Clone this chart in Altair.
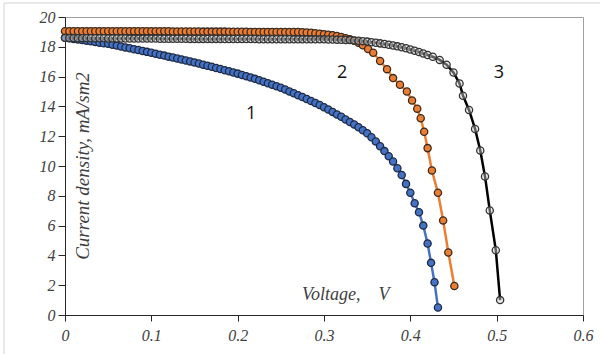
import altair as alt
import pandas as pd

# ---- data ----
v1 = [0.000, 0.005, 0.010, 0.015, 0.020, 0.025, 0.030, 0.035, 0.040, 0.045,
      0.050, 0.055, 0.060, 0.065, 0.070, 0.075, 0.080, 0.085, 0.090, 0.095,
      0.100, 0.105, 0.110, 0.115, 0.120, 0.125, 0.130, 0.135, 0.140, 0.145,
      0.150, 0.155, 0.160, 0.165, 0.170, 0.175, 0.180, 0.185, 0.190, 0.195,
      0.200, 0.205, 0.210, 0.215, 0.220, 0.225, 0.230, 0.235, 0.240, 0.245,
      0.250, 0.255, 0.260, 0.265, 0.270, 0.275, 0.280, 0.285, 0.290, 0.295,
      0.300, 0.305, 0.310, 0.315, 0.320, 0.325, 0.330, 0.335, 0.340, 0.345,
      0.350, 0.355, 0.360, 0.365, 0.370, 0.375, 0.380, 0.385, 0.390, 0.395,
      0.400, 0.405, 0.410, 0.415, 0.420, 0.424, 0.428, 0.432]
j1 = [18.60, 18.57, 18.53, 18.49, 18.45, 18.41, 18.37, 18.33, 18.28, 18.24,
      18.20, 18.14, 18.08, 18.02, 17.96, 17.90, 17.84, 17.78, 17.72, 17.66,
      17.60, 17.54, 17.47, 17.41, 17.34, 17.28, 17.21, 17.15, 17.08, 17.02,
      16.95, 16.88, 16.80, 16.73, 16.66, 16.58, 16.51, 16.43, 16.36, 16.28,
      16.20, 16.11, 16.03, 15.94, 15.85, 15.75, 15.65, 15.55, 15.45, 15.35,
      15.25, 15.13, 15.00, 14.88, 14.75, 14.63, 14.50, 14.36, 14.23, 14.09,
      13.95, 13.79, 13.63, 13.46, 13.30, 13.12, 12.95, 12.78, 12.60, 12.40,
      12.20, 11.93, 11.65, 11.33, 11.00, 10.65, 10.30, 9.85, 9.40, 8.80,
      8.20, 7.50, 6.90, 6.00, 4.80, 3.50, 2.20, 0.50]

v2 = [0.000, 0.005, 0.010, 0.015, 0.020, 0.025, 0.030, 0.035, 0.040, 0.045,
      0.050, 0.055, 0.060, 0.065, 0.070, 0.075, 0.080, 0.085, 0.090, 0.095,
      0.100, 0.105, 0.110, 0.115, 0.120, 0.125, 0.130, 0.135, 0.140, 0.145,
      0.150, 0.155, 0.160, 0.165, 0.170, 0.175, 0.180, 0.185, 0.190, 0.195,
      0.200, 0.205, 0.210, 0.215, 0.220, 0.225, 0.230, 0.235, 0.240, 0.245,
      0.250, 0.255, 0.260, 0.265, 0.270, 0.275, 0.280, 0.285, 0.290, 0.295,
      0.300, 0.305, 0.310, 0.315, 0.320, 0.325, 0.330, 0.335, 0.340, 0.345,
      0.351, 0.357, 0.365, 0.373, 0.380, 0.388, 0.396, 0.402, 0.408, 0.412,
      0.416, 0.420, 0.425, 0.432, 0.438, 0.444, 0.451]
j2 = [19.05, 19.05, 19.05, 19.05, 19.05, 19.05, 19.05, 19.05, 19.05, 19.05,
      19.05, 19.05, 19.05, 19.05, 19.05, 19.05, 19.05, 19.05, 19.05, 19.05,
      19.04, 19.04, 19.04, 19.04, 19.04, 19.03, 19.03, 19.03, 19.03, 19.03,
      19.03, 19.03, 19.02, 19.02, 19.02, 19.02, 19.02, 19.02, 19.01, 19.01,
      19.01, 19.01, 19.01, 19.00, 19.00, 19.00, 19.00, 19.00, 19.00, 19.00,
      19.00, 19.00, 18.99, 18.99, 18.99, 18.98, 18.96, 18.94, 18.91, 18.88,
      18.85, 18.81, 18.77, 18.72, 18.66, 18.58, 18.50, 18.40, 18.28, 18.10,
      17.85, 17.60, 17.05, 16.50, 15.90, 15.45, 15.00, 14.40, 13.85, 13.20,
      12.30, 11.20, 9.70, 8.20, 6.35, 4.20, 1.95]

v3 = [0.000, 0.005, 0.010, 0.015, 0.020, 0.025, 0.030, 0.035, 0.040, 0.045,
      0.050, 0.055, 0.060, 0.065, 0.070, 0.075, 0.080, 0.085, 0.090, 0.095,
      0.100, 0.105, 0.110, 0.115, 0.120, 0.125, 0.130, 0.135, 0.140, 0.145,
      0.150, 0.155, 0.160, 0.165, 0.170, 0.175, 0.180, 0.185, 0.190, 0.195,
      0.200, 0.205, 0.210, 0.215, 0.220, 0.225, 0.230, 0.235, 0.240, 0.245,
      0.250, 0.255, 0.260, 0.265, 0.270, 0.275, 0.280, 0.285, 0.290, 0.295,
      0.300, 0.305, 0.310, 0.315, 0.320, 0.325, 0.330, 0.335, 0.340, 0.345,
      0.350, 0.355, 0.360, 0.365, 0.370, 0.375, 0.380, 0.385, 0.390, 0.395,
      0.400, 0.405, 0.410, 0.415, 0.420, 0.426, 0.434, 0.442, 0.450, 0.457,
      0.461, 0.468, 0.475, 0.481, 0.4865, 0.492, 0.499, 0.504]
j3 = [18.60, 18.59, 18.59, 18.58, 18.58, 18.58, 18.57, 18.57, 18.57, 18.57,
      18.56, 18.56, 18.56, 18.56, 18.56, 18.55, 18.55, 18.55, 18.55, 18.55,
      18.55, 18.55, 18.54, 18.54, 18.54, 18.54, 18.54, 18.54, 18.54, 18.53,
      18.53, 18.53, 18.53, 18.53, 18.53, 18.53, 18.53, 18.52, 18.52, 18.52,
      18.52, 18.52, 18.52, 18.52, 18.52, 18.51, 18.51, 18.51, 18.51, 18.51,
      18.51, 18.51, 18.51, 18.50, 18.50, 18.50, 18.50, 18.50, 18.50, 18.50,
      18.50, 18.49, 18.49, 18.48, 18.47, 18.46, 18.45, 18.43, 18.41, 18.38,
      18.35, 18.31, 18.27, 18.23, 18.19, 18.14, 18.09, 18.03, 17.97, 17.90,
      17.82, 17.74, 17.65, 17.55, 17.45, 17.33, 17.12, 16.80, 16.27, 15.54,
      14.72, 13.76, 12.49, 11.04, 9.30, 7.02, 4.35, 1.00]

x_ticks = [0, 0.1, 0.2, 0.3, 0.4, 0.5, 0.6]
y_ticks = [0, 2, 4, 6, 8, 10, 12, 14, 16, 18, 20]

curve_labels = ["1", "2", "3"]
curve_label_v = [0.2155, 0.321, 0.5027]
curve_label_j = [13.5, 16.25, 16.25]

series = [
    (v1, j1, "#4472C4", "#4472C4", "#1e2a44", 1.0),
    (v2, j2, "#ED7D31", "#ED7D31", "#3a2a1e", 1.0),
    (v3, j3, "#000000", "#d0d0d0", "#333333", 0.45),
]

serif = "Liberation Serif"

xscale = alt.Scale(domain=[0, 0.6], nice=False, zero=False)
yscale = alt.Scale(domain=[0, 20], nice=False)

xaxis = alt.Axis(values=x_ticks, format="~g", title="", grid=False,
                 labelFont=serif, labelFontStyle="italic", labelFontSize=16,
                 labelColor="#404040", labelPadding=6, tickSize=6,
                 tickColor="#262626", domainColor="#262626", labelFlush=False)
yaxis = alt.Axis(values=y_ticks, format="d", title="", grid=False,
                 labelFont=serif, labelFontStyle="italic", labelFontSize=16,
                 labelColor="#404040", labelPadding=3, tickSize=7,
                 tickColor="#262626", domainColor="#262626")


def xenc(field):
    return alt.X(field, scale=xscale, axis=xaxis)


def yenc(field):
    return alt.Y(field, scale=yscale, axis=yaxis)


layers = []
for v, j, lc, fc, sc, fo in series:
    df = pd.DataFrame({"V": v, "J": j})
    line = alt.Chart(df).mark_line(color=lc, strokeWidth=2.5).encode(
        x=xenc("V:Q"), y=yenc("J:Q"))
    pts = alt.Chart(df).mark_circle(size=52, fill=fc, fillOpacity=fo, stroke=sc,
                                    strokeWidth=1.3, opacity=1).encode(
        x=xenc("V:Q"), y=yenc("J:Q"))
    layers += [line, pts]

lab_df = pd.DataFrame({"t": curve_labels, "V": curve_label_v, "J": curve_label_j})
labels = alt.Chart(lab_df).mark_text(font="Open Sans", fontSize=18, color="#111111",
                                     align="center", baseline="middle").encode(
    x=xenc("V:Q"), y=yenc("J:Q"), text="t:N")

tdf = pd.DataFrame({"V": [0.2745, 0.021], "J": [1.0, 10.0],
                    "t": ["Voltage,\u00a0\u00a0\u00a0\u00a0V", "Current density, mA/sm2"]})

xtitle = alt.Chart(tdf.iloc[[0]]).mark_text(
    font=serif, fontStyle="italic", fontSize=18, color="#404040",
    align="left", baseline="alphabetic").encode(
    x=xenc("V:Q"), y=yenc("J:Q"), text="t:N")

ytitle = alt.Chart(tdf.iloc[[1]]).mark_text(
    font=serif, fontStyle="italic", fontSize=19, color="#404040",
    align="center", baseline="middle", angle=270).encode(
    x=xenc("V:Q"), y=yenc("J:Q"), text="t:N")

frame_left = alt.Chart(pd.DataFrame({"a": [0]})).mark_rule(color="#d4d4d4", strokeWidth=1).encode(
    x=alt.value(-61), y=alt.value(-14), y2=alt.value(339))
frame_top = alt.Chart(pd.DataFrame({"a": [0]})).mark_rule(color="#d4d4d4", strokeWidth=1).encode(
    x=alt.value(-61), x2=alt.value(535), y=alt.value(-14))

chart = alt.layer(*layers, labels, xtitle, ytitle, frame_left, frame_top).properties(
    width=518, height=298,
    autosize=alt.AutoSizeParams(type="none"),
    padding={"left": 65, "top": 17, "right": 20, "bottom": 39},
    background="white",
).configure_view(stroke="#a0a0a0", strokeWidth=1)

chart.save("out.html", embed_options={"renderer": "svg", "actions": False})
